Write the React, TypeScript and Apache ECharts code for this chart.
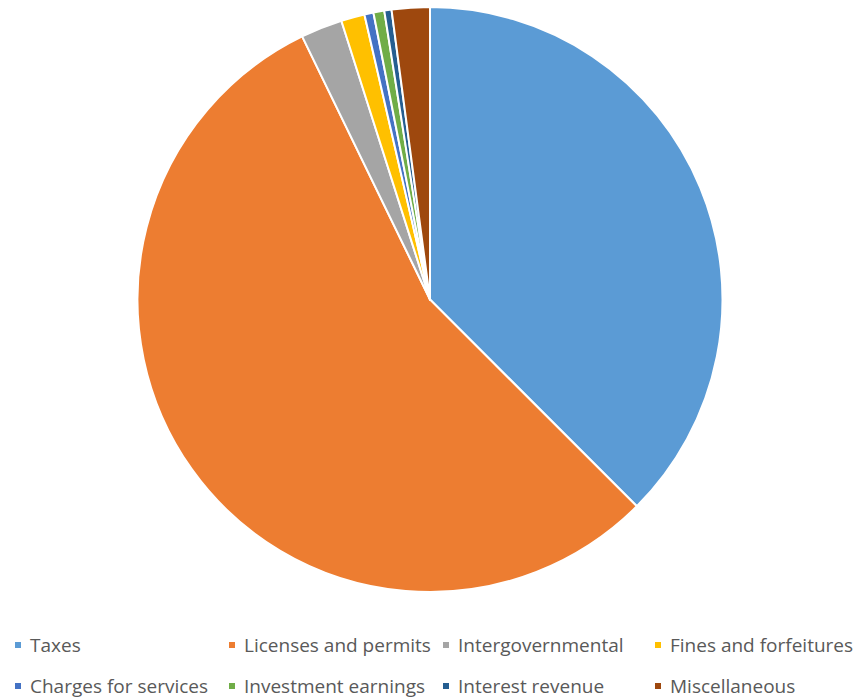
import React, { useEffect, useRef } from "react";
import * as echarts from "echarts";

const categories = [
  "Taxes",
  "Licenses and permits",
  "Intergovernmental",
  "Fines and forfeitures",
  "Charges for services",
  "Investment earnings",
  "Interest revenue",
  "Miscellaneous",
];
const values = [37.5, 55.3, 2.3, 1.3, 0.5, 0.6, 0.4, 2.1];
const colors = ["#5B9BD5", "#ED7D31", "#A5A5A5", "#FFC000", "#4472C4", "#70AD47", "#255E91", "#9E480E"];

const legendLeft = [13, 227, 441, 653];
const legendTop = [634, 675];

export default function App() {
  const ref = useRef<HTMLDivElement>(null);
  useEffect(() => {
    if (!ref.current) return;
    const chart = echarts.init(ref.current, null, { renderer: "svg" });
    const legends = categories.map((name, i) => ({
      data: [name],
      left: legendLeft[i % 4],
      top: legendTop[Math.floor(i / 4)],
      padding: 0,
      itemWidth: 8,
      itemHeight: 8,
      itemGap: 0,
      icon: "rect",
      selectedMode: false,
      textStyle: {
        fontFamily: "Open Sans",
        fontSize: 19,
        color: "#595959",
        lineHeight: 22,
        padding: [0, 0, 0, 3],
      },
    }));
    chart.setOption({
      animation: false,
      color: colors,
      legend: legends,
      series: [
        {
          type: "pie",
          center: [430, 299.5],
          radius: [0, 292.5],
          startAngle: 90,
          clockwise: true,
          label: { show: false },
          labelLine: { show: false },
          emphasis: { disabled: true },
          itemStyle: { borderColor: "#ffffff", borderWidth: 2 },
          data: categories.map((name, i) => ({ name, value: values[i] })),
        },
      ],
    });
    return () => chart.dispose();
  }, []);
  return (
    <div
      ref={ref}
      style={{ position: "absolute", left: 0, top: 0, width: 859, height: 698, background: "#fff" }}
    />
  );
}
